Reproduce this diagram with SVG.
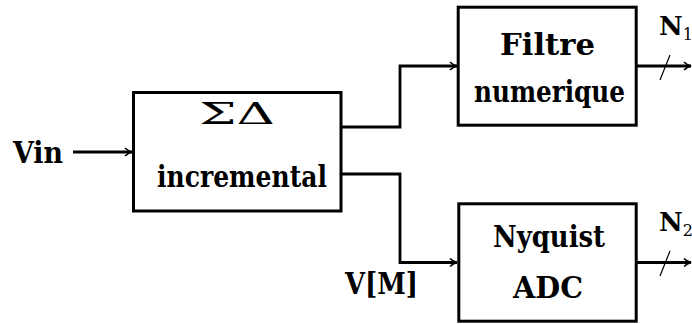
<svg xmlns="http://www.w3.org/2000/svg" width="692" height="324" viewBox="0 0 692 324">
<defs>
<marker id="arr" viewBox="0 0 10 10" refX="9" refY="5" markerWidth="10" markerHeight="10" markerUnits="userSpaceOnUse" orient="auto">
<path d="M2,1 Q5,4 9,5 Q5,6 2,9" fill="none" stroke="#000" stroke-width="1.6"/>
</marker>
<style>
.box{fill:#fff;stroke:#000;stroke-width:3}
.ln{fill:none;stroke:#000;stroke-width:2.8;marker-end:url(#arr)}
.t{font-family:'DejaVu Serif','Liberation Serif',serif;font-weight:bold;font-size:29px;fill:#000}
.m{font-family:'DejaVu Serif','Liberation Serif',serif;font-weight:normal;font-size:29px;fill:#000}
.n{font-family:'DejaVu Serif','Liberation Serif',serif;font-weight:bold;font-size:26px;fill:#000}
.sub{font-size:16px;font-weight:normal}
</style>
</defs>
<g id="connectors">
<path class="ln" d="M73,152 H132"/>
<path class="ln" d="M341,127 H400 V66 H457"/>
<path class="ln" d="M341,174 H400 V262.5 H457"/>
<path class="ln" d="M637,66 H691"/>
<path class="ln" d="M637,262.5 H691"/>
<line x1="660" y1="80" x2="670" y2="55" stroke="#000" stroke-width="1.2"/>
<line x1="660" y1="276" x2="670" y2="251" stroke="#000" stroke-width="1.2"/>
</g>
<g id="vin"><text class="t" x="13" y="163" textLength="50" lengthAdjust="spacingAndGlyphs">Vin</text></g>
<g id="sigmadelta">
<rect class="box" x="133.5" y="92.5" width="207.5" height="118.5"/>
<text class="m" x="237" y="124" text-anchor="middle" textLength="76" lengthAdjust="spacingAndGlyphs">ΣΔ</text>
<text class="t" x="157" y="187" textLength="170" lengthAdjust="spacingAndGlyphs">incremental</text>
</g>
<g id="filtre">
<rect class="box" x="458.2" y="7.2" width="178" height="118"/>
<text class="t" x="500" y="55" textLength="95" lengthAdjust="spacingAndGlyphs">Filtre</text>
<text class="t" x="474" y="102" textLength="151" lengthAdjust="spacingAndGlyphs">numerique</text>
</g>
<g id="nyquist">
<rect class="box" x="458.8" y="203.8" width="177.4" height="117.4"/>
<text class="t" x="493" y="247" textLength="112" lengthAdjust="spacingAndGlyphs">Nyquist</text>
<text class="t" x="513" y="298" textLength="70" lengthAdjust="spacingAndGlyphs">ADC</text>
</g>
<g id="vm"><text class="t" x="345" y="294" textLength="73" lengthAdjust="spacingAndGlyphs">V[M]</text></g>
<g id="n1"><text class="n" x="659" y="35">N<tspan class="sub" dy="5">1</tspan></text></g>
<g id="n2"><text class="n" x="659" y="231">N<tspan class="sub" dy="5">2</tspan></text></g>
</svg>
